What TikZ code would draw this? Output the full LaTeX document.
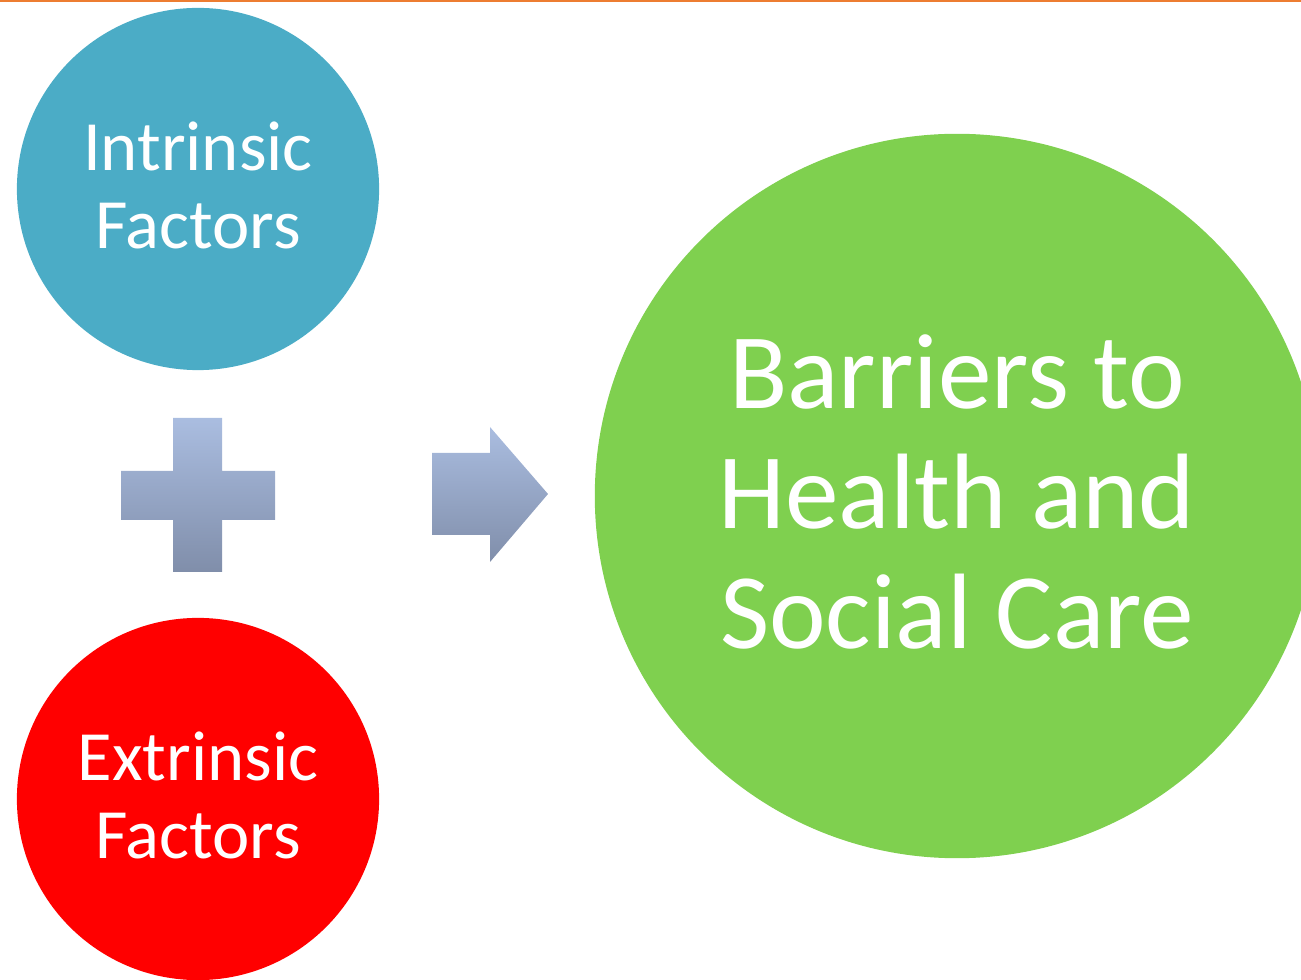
\documentclass[tikz,border=0pt]{standalone}
\usepackage{fontspec}
\setmainfont{Carlito}
\usetikzlibrary{positioning}
\definecolor{factblue}{HTML}{4BACC6}
\definecolor{factred}{HTML}{FF0000}
\definecolor{barrgreen}{HTML}{7FD04F}
\definecolor{lineorange}{HTML}{ED7D31}
\definecolor{shtop}{HTML}{AABDE0}
\definecolor{shbot}{HTML}{808EAA}
\tikzset{
    factnode/.style = {circle, minimum size=3.62cm, inner sep=0pt, align=center, text=white, font=\fontsize{20.1}{22.2}\selectfont},
    barrnode/.style = {circle, minimum size=7.24cm, inner sep=0pt, align=center, text=white, font=\fontsize{30.5}{34}\selectfont},
    opshade/.style = {top color=shtop, bottom color=shbot, draw=none}
}
\begin{document}
\begin{tikzpicture}[x=0.01cm,y=-0.01cm]
\useasboundingbox (0,0) rectangle (1301,980);
\clip (0,0) rectangle (1301,980);
\fill[lineorange] (0,0) rectangle (1301,2.5);
% the two factor circles
\node[factnode, fill=factblue] at (198,189) (intr) {};
\node[factnode, fill=factred] at (198,799) (extr) {};
\node[factnode] at (198,185) (intrtxt) {Intrinsic\\Factors};
\node[factnode] at (198,795) (extrtxt) {Extrinsic\\Factors};
% the result
\node[barrnode, fill=barrgreen] at (957,496) (barr) {};
\node[barrnode] at (957,492) (barrtxt) {Barriers to\\Health and\\Social Care};
% plus sign
\shade[opshade] (173,418) -- (222,418) -- (222,471) -- (275,471) -- (275,520) -- (222,520)
    -- (222,572) -- (173,572) -- (173,520) -- (121,520) -- (121,471) -- (173,471) -- cycle;
% block arrow
\shade[opshade] (432,453) -- (490,453) -- (490,427) -- (548,494) -- (490,562) -- (490,535)
    -- (432,535) -- cycle;
\end{tikzpicture}
\end{document}
